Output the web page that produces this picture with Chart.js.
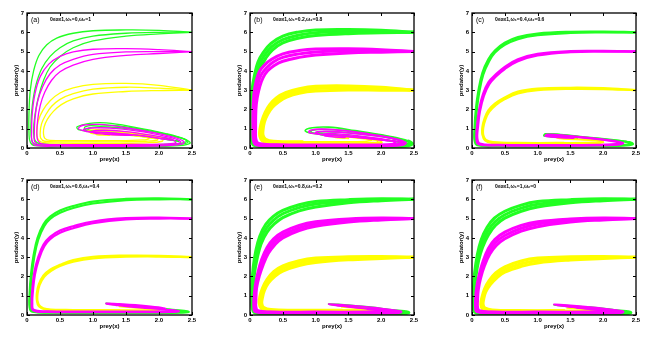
<!DOCTYPE html>
<html><head><meta charset="utf-8">
<script src="https://cdn.jsdelivr.net/npm/chart.js@4.4.1/dist/chart.umd.min.js"></script>
<style>
html,body{margin:0;padding:0;background:#fff;width:657px;height:349px;overflow:hidden;position:relative;}
canvas{position:absolute;}
</style></head><body>
<script>
// ---------- tick labels / titles ----------
const xTickVals = [0, 0.5, 1, 1.5, 2, 2.5];
const yTickVals = [0, 1, 2, 3, 4, 5, 6, 7];
const xTitle = 'prey(x)';
const yTitle = 'predator(y)';
const panelTags = ['(a)', '(b)', '(c)', '(d)', '(e)', '(f)'];
const panelParams = ['0≤α≤1,ω₁=0,ω₂=1', '0≤α≤1,ω₁=0.2,ω₂=0.8', '0≤α≤1,ω₁=0.4,ω₂=0.6',
                     '0≤α≤1,ω₁=0.6,ω₂=0.4', '0≤α≤1,ω₁=0.8,ω₂=0.2', '0≤α≤1,ω₁=1,ω₂=0'];

// ---------- panel (a) ----------
const aG1 = [[2.5,6.0],[2.0,6.1],[1.5,6.12],[1.0,6.08],[0.7,5.95],[0.45,5.7],[0.3,5.35],[0.18,4.8],[0.1,4.0],[0.05,3.0],[0.03,1.8],[0.03,0.8],[0.05,0.3],[0.12,0.12],[0.5,0.08],[1.2,0.07],[1.9,0.08],[2.3,0.12],[2.47,0.25],[2.4,0.45],[2.1,0.75],[1.6,1.1],[1.2,1.3],[0.95,1.28],[0.76,1.1],[0.78,0.95],[1.0,0.85],[1.5,0.7],[2.0,0.5],[2.3,0.35]];
const aG2 = [[2.5,6.0],[2.0,6.0],[1.5,5.95],[1.0,5.8],[0.7,5.55],[0.5,5.2],[0.35,4.75],[0.22,4.1],[0.13,3.2],[0.08,2.2],[0.06,1.2],[0.07,0.45],[0.12,0.2],[0.4,0.14],[1.2,0.12],[1.9,0.13],[2.3,0.18],[2.44,0.3],[2.35,0.5],[2.0,0.8],[1.5,1.1],[1.1,1.2],[0.88,1.1],[0.88,0.95],[1.1,0.85],[1.6,0.7],[2.1,0.45],[2.3,0.35]];
const aG3 = [[2.5,6.0],[2.0,5.92],[1.5,5.8],[1.0,5.55],[0.7,5.2],[0.5,4.75],[0.35,4.2],[0.25,3.5],[0.17,2.6],[0.12,1.7],[0.1,0.9],[0.12,0.4],[0.2,0.22],[0.6,0.18],[1.3,0.17],[2.0,0.18],[2.35,0.25],[2.42,0.38],[2.3,0.55],[1.9,0.82],[1.4,1.05],[1.05,1.1],[0.92,1.0],[1.0,0.88],[1.4,0.8],[1.9,0.6],[2.2,0.45]];
const aM1 = [[2.5,5.0],[2.0,5.1],[1.5,5.15],[1.0,5.12],[0.7,4.98],[0.5,4.75],[0.33,4.35],[0.2,3.7],[0.12,2.8],[0.08,1.8],[0.07,0.8],[0.08,0.3],[0.15,0.12],[0.5,0.1],[1.2,0.09],[1.9,0.1],[2.25,0.15],[2.38,0.28],[2.3,0.48],[2.0,0.75],[1.5,1.05],[1.1,1.22],[0.85,1.18],[0.78,1.0],[0.9,0.88],[1.3,0.78],[1.8,0.6],[2.2,0.4]];
const aM2 = [[2.5,5.0],[2.0,5.0],[1.5,4.98],[1.0,4.85],[0.7,4.6],[0.5,4.3],[0.35,3.85],[0.24,3.2],[0.16,2.4],[0.12,1.5],[0.11,0.7],[0.12,0.3],[0.2,0.16],[0.6,0.14],[1.3,0.13],[1.95,0.14],[2.25,0.2],[2.33,0.32],[2.2,0.52],[1.9,0.75],[1.45,0.98],[1.05,1.05],[0.86,0.97],[0.9,0.85],[1.2,0.78],[1.7,0.65],[2.1,0.45]];
const aM3 = [[2.5,5.0],[2.0,4.9],[1.5,4.8],[1.0,4.6],[0.7,4.3],[0.5,3.95],[0.37,3.5],[0.27,2.9],[0.2,2.2],[0.16,1.4],[0.15,0.7],[0.17,0.35],[0.25,0.2],[0.7,0.18],[1.4,0.18],[2.0,0.2],[2.25,0.27],[2.2,0.45],[1.9,0.65],[1.5,0.85],[1.15,0.92],[0.98,0.85],[1.05,0.75],[1.3,0.72],[1.6,0.66],[1.3,0.68],[1.15,0.72]];
const aY1 = [[2.5,3.0],[2.0,3.25],[1.5,3.35],[1.0,3.3],[0.7,3.12],[0.5,2.85],[0.35,2.45],[0.24,1.95],[0.17,1.4],[0.15,0.9],[0.16,0.5],[0.22,0.3],[0.5,0.25],[1.2,0.24],[1.8,0.27],[2.05,0.35],[2.05,0.5],[1.8,0.7],[1.4,0.88],[1.05,0.95],[0.92,0.88],[1.0,0.78],[1.3,0.72],[1.7,0.6],[1.95,0.48]];
const aY2 = [[2.5,3.0],[2.0,3.1],[1.5,3.15],[1.0,3.05],[0.7,2.82],[0.5,2.52],[0.37,2.15],[0.28,1.7],[0.22,1.25],[0.2,0.8],[0.21,0.5],[0.27,0.35],[0.6,0.32],[1.3,0.32],[1.8,0.35],[1.98,0.42],[1.9,0.58],[1.6,0.75],[1.25,0.85],[1.0,0.85],[0.97,0.76],[1.2,0.7],[1.5,0.66]];
const aY3 = [[2.5,3.0],[2.0,2.98],[1.5,2.93],[1.0,2.8],[0.7,2.55],[0.52,2.25],[0.4,1.9],[0.31,1.5],[0.26,1.1],[0.25,0.75],[0.27,0.5],[0.35,0.4],[0.7,0.38],[1.3,0.38],[1.75,0.42],[1.85,0.5],[1.65,0.65],[1.3,0.78],[1.1,0.78],[1.05,0.7],[1.25,0.66]];

// ---------- panel (b) ----------
const bG1 = [[2.5,6.0],[2.0,6.1],[1.5,6.14],[1.0,6.12],[0.75,6.02],[0.5,5.8],[0.32,5.42],[0.2,4.95],[0.12,4.45],[0.07,3.8],[0.03,3.0],[0.015,2.0],[0.015,1.0],[0.02,0.45],[0.06,0.14],[0.3,0.07],[1.0,0.05],[1.8,0.05],[2.3,0.08],[2.47,0.2],[2.42,0.36],[2.1,0.62],[1.6,0.9],[1.2,1.08],[0.95,1.05],[0.84,0.9],[0.92,0.78],[1.3,0.68],[1.8,0.52],[2.2,0.35],[2.38,0.25]];
const bG2 = [[2.5,6.0],[2.0,6.04],[1.5,6.04],[1.0,5.98],[0.75,5.86],[0.5,5.62],[0.33,5.25],[0.22,4.8],[0.14,4.3],[0.09,3.7],[0.05,2.9],[0.035,2.0],[0.035,1.0],[0.04,0.45],[0.08,0.16],[0.3,0.1],[1.0,0.09],[1.8,0.09],[2.3,0.12],[2.43,0.25],[2.3,0.45],[1.95,0.68],[1.5,0.88],[1.15,0.97],[0.95,0.92],[0.93,0.8],[1.15,0.7],[1.6,0.58],[2.1,0.4],[2.3,0.3]];
const bG3 = [[2.5,6.0],[2.0,5.97],[1.5,5.93],[1.0,5.83],[0.75,5.7],[0.5,5.45],[0.34,5.08],[0.24,4.65],[0.16,4.15],[0.11,3.55],[0.07,2.8],[0.055,2.0],[0.055,1.0],[0.06,0.45],[0.1,0.18],[0.3,0.13],[1.0,0.12],[1.8,0.12],[2.28,0.15],[2.38,0.28],[2.2,0.48],[1.85,0.66],[1.45,0.8],[1.15,0.85],[1.02,0.78],[1.1,0.68],[1.4,0.62],[1.8,0.5],[2.15,0.37]];
const bM1 = [[2.5,5.0],[2.0,5.1],[1.5,5.15],[1.0,5.13],[0.75,5.05],[0.5,4.88],[0.33,4.6],[0.22,4.3],[0.14,3.95],[0.09,3.4],[0.06,2.8],[0.045,2.0],[0.045,1.0],[0.05,0.45],[0.09,0.17],[0.4,0.11],[1.2,0.1],[1.9,0.1],[2.25,0.14],[2.37,0.26],[2.25,0.45],[1.9,0.68],[1.45,0.9],[1.1,0.98],[0.92,0.92],[0.9,0.8],[1.1,0.7],[1.5,0.6],[2.0,0.42],[2.3,0.3]];
const bM2 = [[2.5,5.0],[2.0,5.03],[1.5,5.04],[1.0,4.98],[0.75,4.88],[0.5,4.7],[0.35,4.45],[0.25,4.15],[0.17,3.8],[0.12,3.3],[0.08,2.7],[0.065,2.0],[0.065,1.0],[0.07,0.45],[0.11,0.2],[0.4,0.14],[1.2,0.13],[1.9,0.13],[2.25,0.18],[2.32,0.3],[2.15,0.5],[1.8,0.68],[1.4,0.82],[1.12,0.86],[1.0,0.8],[1.08,0.7],[1.4,0.62],[1.8,0.5],[2.1,0.38]];
const bM3 = [[2.5,5.0],[2.0,4.97],[1.5,4.93],[1.0,4.82],[0.75,4.7],[0.5,4.5],[0.37,4.28],[0.27,4.0],[0.2,3.65],[0.15,3.2],[0.11,2.6],[0.09,2.0],[0.085,1.0],[0.09,0.45],[0.13,0.23],[0.4,0.17],[1.2,0.16],[1.9,0.16],[2.2,0.21],[2.2,0.34],[1.95,0.5],[1.6,0.65],[1.3,0.74],[1.12,0.72],[1.15,0.62],[1.35,0.56],[1.45,0.55]];
const bY1 = [[2.5,3.0],[2.0,3.15],[1.5,3.22],[1.0,3.2],[0.75,3.08],[0.55,2.88],[0.4,2.6],[0.3,2.25],[0.23,1.85],[0.18,1.4],[0.15,0.95],[0.15,0.6],[0.19,0.36],[0.3,0.25],[0.8,0.2],[1.4,0.2],[1.85,0.22],[2.0,0.28],[1.98,0.38],[1.7,0.5],[1.4,0.6],[1.25,0.62],[1.35,0.55],[1.5,0.5]];
const bY2 = [[2.5,3.0],[2.0,3.08],[1.5,3.12],[1.0,3.08],[0.75,2.96],[0.55,2.76],[0.42,2.5],[0.32,2.18],[0.25,1.8],[0.2,1.38],[0.18,0.95],[0.18,0.62],[0.22,0.4],[0.33,0.3],[0.8,0.26],[1.4,0.26],[1.85,0.28],[1.95,0.34],[1.85,0.45],[1.6,0.55],[1.35,0.6],[1.3,0.55],[1.45,0.52]];
const bY3 = [[2.5,3.0],[2.0,3.0],[1.5,3.01],[1.0,2.95],[0.75,2.84],[0.56,2.64],[0.44,2.4],[0.34,2.1],[0.27,1.75],[0.22,1.35],[0.2,0.95],[0.2,0.65],[0.24,0.45],[0.36,0.35],[0.8,0.32],[1.4,0.32],[1.75,0.34],[1.85,0.4]];

// ---------- panel (c) ----------
const cG1 = [[2.5,6.0],[2.0,6.03],[1.5,6.02],[1.0,5.93],[0.7,5.75],[0.5,5.45],[0.35,5.05],[0.25,4.6],[0.16,3.9],[0.1,3.0],[0.06,2.0],[0.04,1.0],[0.04,0.4],[0.08,0.15],[0.4,0.1],[1.2,0.09],[1.9,0.1],[2.3,0.13],[2.45,0.2],[2.4,0.3],[2.1,0.42],[1.7,0.55],[1.35,0.68],[1.12,0.72],[1.1,0.64],[1.3,0.58],[1.6,0.5],[1.4,0.56],[1.25,0.6]];
const cG2 = [[2.5,6.0],[2.0,6.0],[1.5,5.97],[1.0,5.85],[0.7,5.65],[0.5,5.35],[0.35,4.95],[0.26,4.5],[0.17,3.8],[0.11,2.9],[0.07,1.9],[0.05,1.0],[0.05,0.4],[0.1,0.16],[0.4,0.12],[1.2,0.11],[1.9,0.12],[2.28,0.15],[2.42,0.22],[2.35,0.32],[2.05,0.45],[1.65,0.58],[1.3,0.7],[1.15,0.68],[1.2,0.6],[1.45,0.55]];
const cM1 = [[2.5,5.0],[2.0,5.03],[1.5,5.02],[1.0,4.88],[0.7,4.6],[0.5,4.2],[0.36,3.8],[0.25,3.4],[0.17,2.8],[0.11,2.0],[0.08,1.2],[0.07,0.5],[0.1,0.2],[0.4,0.14],[1.2,0.13],[1.9,0.14],[2.22,0.18],[2.3,0.26],[2.15,0.38],[1.8,0.52],[1.45,0.64],[1.15,0.7],[1.12,0.62],[1.3,0.56],[1.55,0.52],[1.35,0.55]];
const cM2 = [[2.5,5.0],[2.0,5.0],[1.5,4.97],[1.0,4.8],[0.7,4.5],[0.5,4.1],[0.36,3.7],[0.26,3.3],[0.18,2.7],[0.12,1.9],[0.09,1.1],[0.08,0.5],[0.12,0.22],[0.4,0.16],[1.2,0.15],[1.9,0.16],[2.2,0.2],[2.25,0.28],[2.05,0.4],[1.7,0.53],[1.35,0.64],[1.2,0.64],[1.3,0.58],[1.45,0.55]];
const cY1 = [[2.5,3.0],[2.0,3.1],[1.5,3.12],[1.0,3.08],[0.7,2.92],[0.5,2.62],[0.35,2.3],[0.25,1.95],[0.19,1.5],[0.16,1.1],[0.16,0.7],[0.2,0.4],[0.3,0.27],[0.7,0.23],[1.4,0.23],[1.85,0.25],[2.0,0.3],[1.95,0.38],[1.7,0.43],[1.4,0.48],[1.3,0.53]];
const cY2 = [[2.5,3.0],[2.0,3.06],[1.5,3.07],[1.0,3.0],[0.7,2.83],[0.5,2.54],[0.36,2.22],[0.26,1.88],[0.2,1.45],[0.17,1.05],[0.17,0.68],[0.21,0.42],[0.32,0.3],[0.7,0.26],[1.4,0.26],[1.85,0.28],[1.97,0.32]];

// ---------- panel (d) ----------
const dG1 = [[2.5,6.0],[2.0,6.05],[1.5,6.02],[1.0,5.88],[0.7,5.65],[0.5,5.42],[0.35,5.1],[0.25,4.7],[0.16,4.0],[0.1,3.1],[0.06,2.1],[0.04,1.1],[0.04,0.4],[0.08,0.17],[0.4,0.12],[1.2,0.11],[1.9,0.11],[2.3,0.12],[2.45,0.16],[2.38,0.22],[2.1,0.3],[1.7,0.42],[1.35,0.55],[1.2,0.6],[1.3,0.55],[1.7,0.45],[2.1,0.3]];
const dG2 = [[2.5,6.0],[2.0,6.0],[1.5,5.96],[1.0,5.78],[0.7,5.55],[0.5,5.3],[0.35,4.98],[0.26,4.6],[0.17,3.9],[0.11,3.0],[0.07,2.0],[0.05,1.05],[0.05,0.4],[0.1,0.18],[0.4,0.14],[1.2,0.13],[1.9,0.13],[2.28,0.14],[2.4,0.18]];
const dM1 = [[2.5,5.0],[2.0,5.05],[1.5,5.02],[1.0,4.85],[0.7,4.6],[0.5,4.38],[0.35,4.05],[0.25,3.65],[0.17,3.0],[0.11,2.2],[0.08,1.3],[0.07,0.6],[0.09,0.25],[0.3,0.16],[1.0,0.15],[1.8,0.15],[2.2,0.16],[2.3,0.2],[2.15,0.27],[1.8,0.36],[1.5,0.45],[1.25,0.55],[1.2,0.6],[1.4,0.57],[1.8,0.47],[2.1,0.35],[1.8,0.4],[1.5,0.48],[1.35,0.5]];
const dM2 = [[2.5,5.0],[2.0,5.0],[1.5,4.96],[1.0,4.76],[0.7,4.5],[0.5,4.26],[0.35,3.93],[0.26,3.55],[0.18,2.9],[0.12,2.1],[0.09,1.25],[0.08,0.6],[0.1,0.27],[0.3,0.19],[1.0,0.18],[1.8,0.18],[2.18,0.2],[2.2,0.25]];
const dY1 = [[2.5,3.0],[2.0,3.07],[1.5,3.08],[1.0,3.02],[0.7,2.85],[0.5,2.6],[0.35,2.35],[0.25,2.05],[0.18,1.6],[0.15,1.15],[0.15,0.75],[0.18,0.45],[0.28,0.28],[0.7,0.22],[1.4,0.21],[1.85,0.22],[2.0,0.27],[1.92,0.33],[1.7,0.37],[1.5,0.42],[1.4,0.45]];
const dY2 = [[2.5,3.0],[2.0,3.03],[1.5,3.02],[1.0,2.94],[0.7,2.77],[0.5,2.54],[0.36,2.28],[0.26,1.98],[0.19,1.55],[0.16,1.1],[0.16,0.72],[0.2,0.45],[0.3,0.31],[0.7,0.26],[1.4,0.25],[1.85,0.26],[1.96,0.3]];

// ---------- panel (e) ----------
const eG1 = [[2.5,6.0],[2.0,6.03],[1.5,5.98],[1.0,5.88],[0.75,5.72],[0.5,5.42],[0.35,5.1],[0.24,4.7],[0.15,4.1],[0.09,3.35],[0.05,2.5],[0.03,1.6],[0.028,0.8],[0.035,0.35],[0.07,0.12],[0.4,0.08],[1.2,0.07],[1.9,0.07],[2.3,0.08],[2.42,0.12],[2.35,0.18],[2.0,0.27],[1.6,0.4],[1.3,0.52],[1.2,0.57],[1.35,0.55],[1.8,0.42],[2.2,0.25]];
const eG2 = [[2.5,6.0],[2.0,5.98],[1.5,5.9],[1.0,5.75],[0.75,5.57],[0.5,5.25],[0.36,4.92],[0.25,4.5],[0.16,3.9],[0.1,3.15],[0.06,2.35],[0.04,1.5],[0.038,0.8],[0.045,0.35],[0.09,0.14],[0.4,0.1],[1.2,0.09],[1.9,0.09],[2.28,0.1],[2.38,0.14]];
const eG3 = [[2.5,6.0],[2.0,5.93],[1.5,5.82],[1.0,5.6],[0.75,5.4],[0.5,5.05],[0.37,4.72],[0.26,4.3],[0.17,3.7],[0.11,2.95],[0.07,2.2],[0.05,1.4],[0.048,0.8],[0.055,0.35],[0.11,0.16],[0.4,0.12],[1.2,0.11],[1.9,0.11],[2.25,0.12],[2.35,0.16]];
const eM1 = [[2.5,5.0],[2.0,5.03],[1.5,4.98],[1.0,4.83],[0.75,4.65],[0.5,4.3],[0.36,3.95],[0.26,3.5],[0.18,2.9],[0.12,2.2],[0.08,1.5],[0.06,0.8],[0.06,0.4],[0.08,0.18],[0.3,0.12],[1.0,0.11],[1.8,0.11],[2.2,0.12],[2.3,0.16],[2.15,0.22],[1.8,0.32],[1.5,0.42],[1.25,0.52],[1.2,0.57],[1.45,0.52],[1.85,0.4],[2.15,0.28]];
const eM2 = [[2.5,5.0],[2.0,4.98],[1.5,4.9],[1.0,4.72],[0.75,4.52],[0.5,4.15],[0.37,3.8],[0.27,3.35],[0.19,2.75],[0.13,2.1],[0.09,1.45],[0.075,0.8],[0.075,0.4],[0.1,0.2],[0.3,0.14],[1.0,0.13],[1.8,0.13],[2.18,0.14],[2.25,0.18],[2.05,0.25],[1.7,0.36],[1.45,0.45],[1.32,0.5]];
const eM3 = [[2.5,5.0],[2.0,4.93],[1.5,4.82],[1.0,4.6],[0.75,4.38],[0.5,4.0],[0.38,3.65],[0.28,3.2],[0.2,2.6],[0.14,2.0],[0.1,1.4],[0.09,0.8],[0.09,0.4],[0.12,0.22],[0.3,0.16],[1.0,0.15],[1.8,0.15],[2.15,0.16]];
const eY1 = [[2.5,3.0],[2.0,3.03],[1.5,3.02],[1.0,2.95],[0.75,2.82],[0.5,2.55],[0.36,2.25],[0.26,1.85],[0.19,1.4],[0.15,0.95],[0.14,0.6],[0.17,0.35],[0.28,0.22],[0.7,0.19],[1.4,0.19],[1.85,0.2],[2.0,0.25],[1.9,0.3],[1.6,0.36],[1.4,0.42],[1.5,0.4],[1.8,0.33]];
const eY2 = [[2.5,3.0],[2.0,2.98],[1.5,2.94],[1.0,2.84],[0.75,2.7],[0.5,2.42],[0.37,2.12],[0.27,1.75],[0.2,1.33],[0.17,0.92],[0.16,0.6],[0.19,0.37],[0.3,0.25],[0.7,0.22],[1.4,0.22],[1.85,0.23],[1.97,0.27]];
const eY3 = [[2.5,3.0],[2.0,2.93],[1.5,2.86],[1.0,2.72],[0.75,2.57],[0.5,2.28],[0.38,2.0],[0.28,1.65],[0.22,1.27],[0.19,0.9],[0.18,0.6],[0.21,0.39],[0.32,0.28],[0.7,0.25],[1.4,0.25],[1.8,0.26],[1.92,0.29]];

// ---------- panel (f) ----------
const fG1 = [[2.5,6.0],[2.0,6.03],[1.5,5.98],[1.0,5.88],[0.75,5.7],[0.5,5.38],[0.34,5.02],[0.23,4.55],[0.14,3.9],[0.08,3.1],[0.04,2.2],[0.02,1.3],[0.015,0.7],[0.02,0.3],[0.06,0.11],[0.4,0.08],[1.2,0.07],[1.9,0.07],[2.3,0.08],[2.42,0.12],[2.35,0.18],[2.0,0.27],[1.65,0.38],[1.35,0.48],[1.25,0.53],[1.4,0.5],[1.8,0.38],[2.2,0.22]];
const fG2 = [[2.5,6.0],[2.0,5.98],[1.5,5.9],[1.0,5.74],[0.75,5.54],[0.5,5.2],[0.35,4.83],[0.24,4.35],[0.15,3.7],[0.09,2.95],[0.05,2.1],[0.03,1.25],[0.025,0.7],[0.03,0.3],[0.08,0.13],[0.4,0.1],[1.2,0.09],[1.9,0.09],[2.28,0.1],[2.38,0.14]];
const fG3 = [[2.5,6.0],[2.0,5.93],[1.5,5.82],[1.0,5.6],[0.75,5.38],[0.5,5.02],[0.36,4.65],[0.25,4.15],[0.16,3.5],[0.1,2.8],[0.06,2.0],[0.04,1.2],[0.035,0.7],[0.04,0.3],[0.1,0.15],[0.4,0.12],[1.2,0.11],[1.9,0.11],[2.25,0.12],[2.35,0.16]];
const fM1 = [[2.5,5.0],[2.0,5.03],[1.5,4.98],[1.0,4.84],[0.75,4.65],[0.5,4.3],[0.35,3.92],[0.25,3.45],[0.17,2.8],[0.11,2.1],[0.07,1.4],[0.055,0.8],[0.055,0.4],[0.075,0.18],[0.3,0.12],[1.0,0.11],[1.8,0.11],[2.2,0.12],[2.3,0.16],[2.15,0.22],[1.8,0.32],[1.5,0.42],[1.3,0.5],[1.25,0.55],[1.45,0.52],[1.85,0.4],[2.15,0.28]];
const fM2 = [[2.5,5.0],[2.0,4.98],[1.5,4.9],[1.0,4.72],[0.75,4.5],[0.5,4.12],[0.36,3.76],[0.26,3.3],[0.18,2.68],[0.12,2.0],[0.085,1.35],[0.07,0.8],[0.07,0.4],[0.09,0.2],[0.3,0.14],[1.0,0.13],[1.8,0.13],[2.18,0.14],[2.25,0.18],[2.05,0.25],[1.75,0.34],[1.5,0.42],[1.4,0.46],[1.6,0.42],[1.95,0.32]];
const fM3 = [[2.5,5.0],[2.0,4.93],[1.5,4.82],[1.0,4.58],[0.75,4.35],[0.5,3.95],[0.37,3.6],[0.27,3.15],[0.19,2.55],[0.13,1.9],[0.095,1.3],[0.085,0.8],[0.085,0.4],[0.11,0.22],[0.3,0.16],[1.0,0.15],[1.8,0.15],[2.15,0.16],[2.2,0.2],[2.0,0.26],[1.75,0.32],[1.6,0.36]];
const fY1 = [[2.5,3.0],[2.0,3.03],[1.5,3.02],[1.0,2.95],[0.75,2.8],[0.5,2.5],[0.36,2.18],[0.26,1.78],[0.19,1.35],[0.15,0.9],[0.135,0.55],[0.16,0.32],[0.27,0.2],[0.7,0.17],[1.4,0.17],[1.85,0.18],[2.0,0.22],[1.92,0.27],[1.65,0.32],[1.45,0.36],[1.6,0.35],[1.85,0.3]];
const fY2 = [[2.5,3.0],[2.0,2.98],[1.5,2.93],[1.0,2.83],[0.75,2.66],[0.5,2.36],[0.37,2.05],[0.27,1.68],[0.2,1.28],[0.165,0.88],[0.155,0.55],[0.18,0.34],[0.29,0.23],[0.7,0.2],[1.4,0.2],[1.85,0.21],[1.97,0.25]];
const fY3 = [[2.5,3.0],[2.0,2.93],[1.5,2.85],[1.0,2.7],[0.75,2.52],[0.5,2.22],[0.38,1.93],[0.28,1.58],[0.21,1.2],[0.18,0.85],[0.17,0.55],[0.2,0.36],[0.31,0.26],[0.7,0.23],[1.4,0.23],[1.8,0.24],[1.92,0.27]];

// ---------- layout & style ----------
const COLORS = { g: '#22ff22', m: '#ff00ff', y: '#ffff00' };
const panels = [
  { area: [27, 13, 192, 148], lw: 1.3, slw: 1.3, m: [aM1, aM2, aM3], y: [aY1, aY2, aY3], g: [aG1, aG2, aG3] },
  { area: [250, 13, 414, 148], lw: 3.0, slw: 1.6, m: [bM1, bM2, bM3], y: [bY1, bY2, bY3], g: [bG1, bG2, bG3] },
  { area: [472, 13, 636, 148], lw: 2.4, slw: 2.0, m: [cM1, cM2], y: [cY1, cY2], g: [cG1, cG2] },
  { area: [27, 180, 192, 315], lw: 2.2, slw: 1.8, m: [dM1, dM2], y: [dY1, dY2], g: [dG1, dG2] },
  { area: [250, 180, 414, 315], lw: 3.0, slw: 1.6, m: [eM1, eM2, eM3], y: [eY1, eY2, eY3], g: [eG1, eG2, eG3] },
  { area: [472, 180, 636, 315], lw: 3.0, slw: 1.6, m: [fM1, fM2, fM3], y: [fY1, fY2, fY3], g: [fG1, fG2, fG3] }
];
const LEFT = 27, TOP = 13, RIGHT = 10, BOTTOM = 20;
const FONT = '"Liberation Sans", Arial, sans-serif';

const framePlugin = {
  id: 'frame',
  afterDraw(chart, args, opts) {
    const { ctx, chartArea: { left, top, right, bottom }, scales: { x, y } } = chart;
    ctx.save();
    ctx.strokeStyle = '#000';
    ctx.lineWidth = 1;
    ctx.beginPath();
    xTickVals.forEach(v => {
      const px = Math.round(x.getPixelForValue(v)) + 0.5;
      ctx.moveTo(px, bottom); ctx.lineTo(px, bottom - 3);
      ctx.moveTo(px, top); ctx.lineTo(px, top + 3);
    });
    yTickVals.forEach(v => {
      const py = Math.round(y.getPixelForValue(v)) + 0.5;
      ctx.moveTo(left, py); ctx.lineTo(left + 3, py);
      ctx.moveTo(right, py); ctx.lineTo(right - 3, py);
    });
    ctx.stroke();
    ctx.lineWidth = 1.3;
    ctx.strokeRect(left, top, right - left, bottom - top);
    ctx.fillStyle = '#000';
    ctx.textBaseline = 'middle';
    ctx.textAlign = 'left';
    ctx.font = '7px ' + FONT;
    ctx.fillText(opts.tag, left + 4, top + 7);
    ctx.font = 'bold 5px ' + FONT;
    ctx.fillText(opts.param, left + 23, top + 7);
    ctx.restore();
  }
};

// thinner stroke inside the spiral region (after the curve has left the outer arc)
function spiralWidth(p) {
  return ctx => {
    const a = ctx.p0.parsed, b = ctx.p1.parsed;
    const inSpiral = ctx.p0DataIndex > 12 && a.x > 0.7 && b.x > 0.7 && a.y > 0.22 && b.y > 0.22;
    return inSpiral ? p.slw : p.lw;
  };
}

panels.forEach((p, i) => {
  const [l, t, r, b] = p.area;
  const cv = document.createElement('canvas');
  const w = (r - l) + LEFT + RIGHT, h = (b - t) + TOP + BOTTOM;
  cv.width = w; cv.height = h;
  cv.style.left = (l - LEFT) + 'px';
  cv.style.top = (t - TOP) + 'px';
  cv.style.width = w + 'px'; cv.style.height = h + 'px';
  document.body.appendChild(cv);
  const datasets = [];
  [['m', p.m], ['y', p.y], ['g', p.g]].forEach(([c, list]) => {
    list.forEach(arr => datasets.push({
      data: arr.map(([xv, yv]) => ({ x: xv, y: yv })),
      showLine: true, pointRadius: 0, borderColor: COLORS[c], borderWidth: p.lw,
      segment: { borderWidth: spiralWidth(p) },
      tension: 0.4, fill: false, borderCapStyle: 'round', borderJoinStyle: 'round'
    }));
  });
  new Chart(cv, {
    type: 'scatter',
    data: { datasets },
    options: {
      responsive: false, animation: false, devicePixelRatio: 1,
      layout: { padding: { top: TOP, right: RIGHT, left: 0, bottom: 0 } },
      plugins: { legend: { display: false }, tooltip: { enabled: false },
                 frame: { tag: panelTags[i], param: panelParams[i] } },
      scales: {
        x: {
          type: 'linear', min: 0, max: 2.5,
          afterBuildTicks: s => { s.ticks = xTickVals.map(v => ({ value: v })); },
          afterFit: s => { s.height = BOTTOM; },
          grid: { display: false, drawTicks: false }, border: { display: false },
          ticks: { color: '#000', font: { size: 6, family: FONT, weight: 'bold' }, padding: 2, maxRotation: 0, autoSkip: false },
          title: { display: true, text: xTitle, color: '#000', font: { size: 6, family: FONT, weight: 'bold' }, padding: { top: 0, bottom: 5 } }
        },
        y: {
          type: 'linear', min: 0, max: 7,
          afterBuildTicks: s => { s.ticks = yTickVals.map(v => ({ value: v })); },
          afterFit: s => { s.width = LEFT; },
          grid: { display: false, drawTicks: false }, border: { display: false },
          ticks: { color: '#000', font: { size: 6, family: FONT, weight: 'bold' }, padding: 3, autoSkip: false },
          title: { display: true, text: yTitle, color: '#000', font: { size: 6, family: FONT, weight: 'bold' }, padding: { top: 13, bottom: 0 } }
        }
      }
    },
    plugins: [framePlugin]
  });
});
</script>
</body></html>
